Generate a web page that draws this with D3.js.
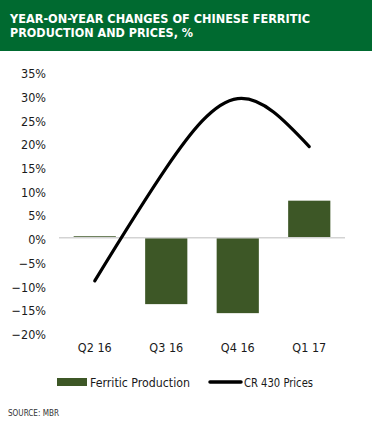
<!DOCTYPE html>
<html>
<head>
<meta charset="utf-8">
<script src="https://cdn.jsdelivr.net/npm/d3@7"></script>
<style>
  html, body { margin: 0; padding: 0; background: #fff; }
  svg { display: block; }
  text { font-family: "Liberation Sans Narrow", "DejaVu Sans Condensed", "Roboto", sans-serif; }
</style>
</head>
<body>
<svg id="chart" width="372" height="430"></svg>
<script>
const titleLines = ["YEAR-ON-YEAR CHANGES OF CHINESE FERRITIC", "PRODUCTION AND PRICES, %"];
const categories = ["Q2 16", "Q3 16", "Q4 16", "Q1 17"];
const production = [0.3, -14.0, -15.9, 7.8];
const prices = [-9.1, 14.7, 29.3, 19.2];
const yTicks = [35, 30, 25, 20, 15, 10, 5, 0, -5, -10, -15, -20];
const seriesNames = ["Ferritic Production", "CR 430 Prices"];
const sourceText = "SOURCE: MBR";

const svg = d3.select("#chart");
const W = 372, H = 430;

// header
svg.append("rect").attr("x", 0).attr("y", 0).attr("width", W).attr("height", 51).attr("fill", "#006a30");
const titleWidths = [300, 183];
svg.selectAll("text.title").data(titleLines).enter().append("text")
  .attr("class", "title")
  .attr("x", 10).attr("y", (d, i) => 22.5 + i * 14)
  .attr("fill", "#fff").attr("font-weight", "bold").attr("font-size", 12)
  .attr("textLength", (d, i) => titleWidths[i]).attr("lengthAdjust", "spacingAndGlyphs")
  .text(d => d);

const plot = { left: 59, right: 345, top: 71.6, bottom: 332.6 };

const x = d3.scaleBand().domain(categories).range([plot.left, plot.right]).paddingInner(0.41).paddingOuter(0.205);
const y = d3.scaleLinear().domain([-20, 35]).range([plot.bottom, plot.top]);

// y axis labels
const yAxis = d3.axisLeft(y).tickValues(yTicks).tickSize(0).tickPadding(0).tickFormat(d => (d < 0 ? "\u2212" + Math.abs(d) : d) + "%");
const yg = svg.append("g").attr("transform", `translate(46,2)`).call(yAxis);
yg.select(".domain").remove();
yg.selectAll("text").attr("font-size", 12.5).attr("fill", "#1a1a1a").attr("font-family", null);

// bars
svg.selectAll("rect.bar").data(production).enter().append("rect")
  .attr("class", "bar")
  .attr("x", (d, i) => x(categories[i]))
  .attr("width", x.bandwidth())
  .attr("y", d => y(Math.max(0, d)))
  .attr("height", d => Math.abs(y(d) - y(0)))
  .attr("fill", "#3d5726");

// zero line
svg.append("line").attr("x1", plot.left).attr("x2", plot.right)
  .attr("y1", y(0)).attr("y2", y(0)).attr("stroke", "#d3d3d3").attr("stroke-width", 1.5);

// price line
const line = d3.line()
  .x((d, i) => x(categories[i]) + x.bandwidth() / 2)
  .y(d => y(d))
  .curve(d3.curveNatural);
svg.append("path").datum(prices).attr("d", line)
  .attr("fill", "none").attr("stroke", "#000").attr("stroke-width", 3.2).attr("stroke-linecap", "round");

// x axis labels
const xAxis = d3.axisBottom(x).tickSize(0).tickPadding(0);
const xg = svg.append("g").attr("transform", `translate(0,343)`).call(xAxis);
xg.select(".domain").remove();
xg.selectAll("text").attr("font-size", 12.5).attr("fill", "#1a1a1a").attr("font-family", null);

// legend
const lg = svg.append("g");
lg.append("rect").attr("x", 57).attr("y", 378).attr("width", 30).attr("height", 8).attr("fill", "#3d5726");
lg.append("text").attr("x", 90).attr("y", 387).attr("font-size", 13).attr("fill", "#1a1a1a")
  .attr("textLength", 100).attr("lengthAdjust", "spacingAndGlyphs").text(seriesNames[0]);
lg.append("line").attr("x1", 210).attr("x2", 241).attr("y1", 382).attr("y2", 382)
  .attr("stroke", "#000").attr("stroke-width", 3.5).attr("stroke-linecap", "round");
lg.append("text").attr("x", 244).attr("y", 387).attr("font-size", 13).attr("fill", "#1a1a1a")
  .attr("textLength", 69).attr("lengthAdjust", "spacingAndGlyphs").text(seriesNames[1]);

// source
svg.append("text").attr("x", 8).attr("y", 416).attr("font-size", 8).attr("fill", "#333")
  .attr("textLength", 51).attr("lengthAdjust", "spacingAndGlyphs").text(sourceText);
</script>
</body>
</html>
